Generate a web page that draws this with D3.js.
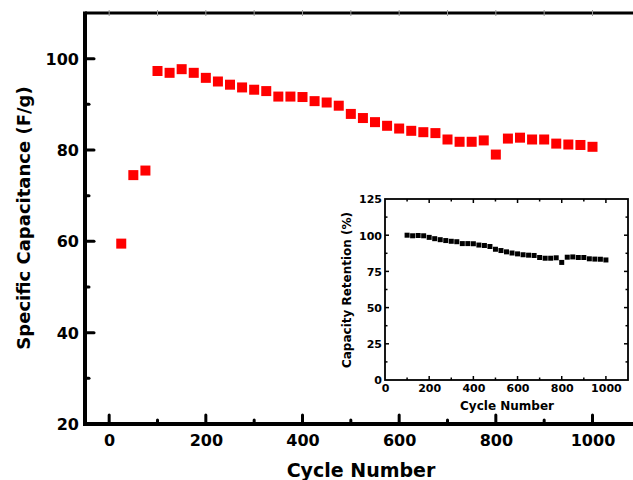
<!DOCTYPE html>
<html><head><meta charset="utf-8">
<script src="https://cdn.jsdelivr.net/npm/d3@7"></script>
<style>body{margin:0;background:#fff}svg{display:block}text{font-family:"DejaVu Sans",sans-serif;font-weight:bold;fill:#000}</style>
</head><body>
<script>
const cycles = [25,50,75,100,125,150,175,200,225,250,275,300,325,350,375,400,425,450,475,500,525,550,575,600,625,650,675,700,725,750,775,800,825,850,875,900,925,950,975,1000];
const capacitance = [59.5,74.5,75.5,97.3,96.9,97.7,96.9,95.8,95.0,94.3,93.7,93.2,92.9,91.7,91.7,91.6,90.7,90.4,89.7,87.9,87.0,86.1,85.3,84.7,84.2,83.9,83.7,82.3,81.8,81.8,82.1,79.0,82.5,82.7,82.3,82.3,81.4,81.2,81.1,80.7];
const insetCycles = [100,125,150,175,200,225,250,275,300,325,350,375,400,425,450,475,500,525,550,575,600,625,650,675,700,725,750,775,800,825,850,875,900,925,950,975,1000];
const retention = [100,99.6,99.8,99.6,98.5,97.6,96.9,96.3,95.8,95.5,94.2,94.2,94.1,93.2,92.9,92.2,90.3,89.4,88.5,87.7,87.1,86.5,86.2,86.0,84.6,84.1,84.1,84.4,81.2,84.8,85.0,84.6,84.6,83.7,83.5,83.4,82.9];
const mainXTicks = [0,200,400,600,800,1000];
const mainYTicks = [20,40,60,80,100];
const insetXTicks = [0,200,400,600,800,1000];
const insetYTicks = [0,25,50,75,100,125];

const W=633,H=480;
const svg=d3.select("body").append("svg").attr("width",W).attr("height",H);

// main scales
const x=d3.scaleLinear().domain([-50,1150]).range([85,665]);
const y=d3.scaleLinear().domain([20,110]).range([424,13]);

// frame
const g=svg.append("g");
g.append("line").attr("x1",x(-50)).attr("x2",W+5).attr("y1",y(110)).attr("y2",y(110)).attr("stroke","#000").attr("stroke-width",3);
g.append("line").attr("x1",x(-50)).attr("x2",W+5).attr("y1",y(20)).attr("y2",y(20)).attr("stroke","#000").attr("stroke-width",4);
g.append("line").attr("x1",x(-50)).attr("x2",x(-50)).attr("y1",y(110)-1.5).attr("y2",y(20)+2).attr("stroke","#000").attr("stroke-width",4);

// y ticks
const yAxis=d3.axisLeft(y).tickValues(mainYTicks).tickSize(0).tickPadding(0).tickFormat(d3.format("d"));
const ya=svg.append("g").attr("transform",`translate(${x(-50)},0)`).call(yAxis);
ya.select(".domain").remove();
ya.selectAll("text").attr("x",-6).attr("dy","0.35em").style("font-size","16px").style("font-family","DejaVu Sans").style("font-weight","bold");
g.selectAll(".ymaj").data(mainYTicks.filter(d=>d>20)).join("line").attr("x1",x(-50)).attr("x2",x(-50)+9).attr("y1",d=>y(d)).attr("y2",d=>y(d)).attr("stroke","#000").attr("stroke-width",3).attr("stroke-linecap","round");
g.selectAll(".ymin").data([30,50,70,90]).join("line").attr("x1",x(-50)).attr("x2",x(-50)+4).attr("y1",d=>y(d)).attr("y2",d=>y(d)).attr("stroke","#000").attr("stroke-width",3).attr("stroke-linecap","round");

// x ticks
const xAxis=d3.axisBottom(x).tickValues(mainXTicks).tickSize(0).tickPadding(0).tickFormat(d3.format("d"));
const xa=svg.append("g").attr("transform",`translate(0,${y(20)})`).call(xAxis);
xa.select(".domain").remove();
xa.selectAll("text").attr("y",11).attr("dy","0.71em").style("font-size","16px").style("font-family","DejaVu Sans").style("font-weight","bold");
g.selectAll(".xmaj").data(mainXTicks).join("line").attr("x1",d=>x(d)).attr("x2",d=>x(d)).attr("y1",y(20)).attr("y2",y(20)-9).attr("stroke","#000").attr("stroke-width",3).attr("stroke-linecap","round");
g.selectAll(".xmin").data([100,300,500,700,900]).join("line").attr("x1",d=>x(d)).attr("x2",d=>x(d)).attr("y1",y(20)).attr("y2",y(20)-4).attr("stroke","#000").attr("stroke-width",3).attr("stroke-linecap","round");
g.selectAll(".xtop").data([0,100,200,300,400,500,600,700,800,900,1000,1100]).join("line").attr("x1",d=>x(d)).attr("x2",d=>x(d)).attr("y1",y(110)-3).attr("y2",y(110)+3).attr("stroke","#999").attr("stroke-width",1);

// titles
svg.append("text").attr("x",361).attr("y",477).attr("text-anchor","middle").style("font-size","19px").text("Cycle Number");
svg.append("text").attr("transform","translate(30,218) rotate(-90)").attr("text-anchor","middle").style("font-size","18px").text("Specific Capacitance (F/g)");

// main points
svg.append("g").selectAll("rect").data(cycles.map((c,i)=>[c,capacitance[i]])).join("rect")
  .attr("x",d=>x(d[0])-5).attr("y",d=>y(d[1])-5).attr("width",10).attr("height",10).attr("fill","#ff0000");

// inset
const ix=d3.scaleLinear().domain([0,1100]).range([385,628]);
const iy=d3.scaleLinear().domain([0,125]).range([380,199]);
const ig=svg.append("g");
ig.append("rect").attr("x",ix(0)).attr("y",iy(125)).attr("width",ix(1100)-ix(0)).attr("height",iy(0)-iy(125)).attr("fill","none").attr("stroke","#000").attr("stroke-width",1.8);
const ixMaj=insetXTicks, ixMin=[100,300,500,700,900];
const iyMin=[12.5,37.5,62.5,87.5,112.5];
function tick(sel,data,x1,x2,y1,y2){sel.append("g").selectAll("line").data(data).join("line").attr("x1",x1).attr("x2",x2).attr("y1",y1).attr("y2",y2).attr("stroke","#000").attr("stroke-width",1.5);}
tick(ig,ixMaj.slice(1),d=>ix(d),d=>ix(d),iy(0),iy(0)-4);
tick(ig,ixMin,d=>ix(d),d=>ix(d),iy(0),iy(0)-2.5);
tick(ig,ixMaj.slice(1),d=>ix(d),d=>ix(d),iy(125),iy(125)+4);
tick(ig,ixMin,d=>ix(d),d=>ix(d),iy(125),iy(125)+2.5);
tick(ig,insetYTicks.slice(1,-1),ix(0),ix(0)+4,d=>iy(d),d=>iy(d));
tick(ig,iyMin,ix(0),ix(0)+2.5,d=>iy(d),d=>iy(d));
tick(ig,insetYTicks.slice(1,-1),ix(1100),ix(1100)-4,d=>iy(d),d=>iy(d));
tick(ig,iyMin,ix(1100),ix(1100)-2.5,d=>iy(d),d=>iy(d));

const ixa=svg.append("g").attr("transform",`translate(0,${iy(0)})`).call(d3.axisBottom(ix).tickValues(insetXTicks).tickSize(0).tickPadding(0).tickFormat(d3.format("d")));
ixa.select(".domain").remove();
ixa.selectAll("text").attr("y",4).attr("dy","0.71em").style("font-size","11px").style("font-family","DejaVu Sans").style("font-weight","bold");
const iya=svg.append("g").attr("transform",`translate(${ix(0)},0)`).call(d3.axisLeft(iy).tickValues(insetYTicks).tickSize(0).tickPadding(0).tickFormat(d3.format("d")));
iya.select(".domain").remove();
iya.selectAll("text").attr("x",-3).attr("dy","0.35em").style("font-size","11px").style("font-family","DejaVu Sans").style("font-weight","bold");

svg.append("text").attr("x",507).attr("y",410).attr("text-anchor","middle").style("font-size","12px").text("Cycle Number");
svg.append("text").attr("transform","translate(351,290) rotate(-90)").attr("text-anchor","middle").style("font-size","12px").text("Capacity Retention (%)");

svg.append("g").selectAll("rect").data(insetCycles.map((c,i)=>[c,retention[i]])).join("rect")
  .attr("x",d=>ix(d[0])-2.5).attr("y",d=>iy(d[1])-2.5).attr("width",5).attr("height",5).attr("fill","#000");
</script>
</body></html>
